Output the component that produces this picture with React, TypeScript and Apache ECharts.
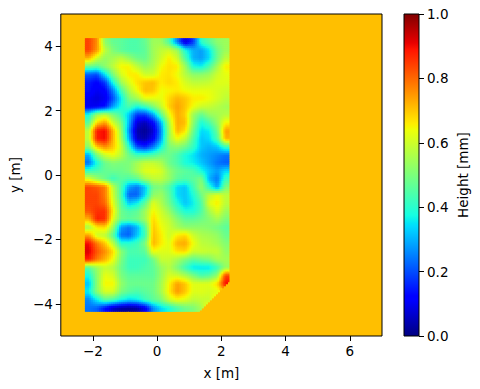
import React, { useEffect, useRef } from "react";
import * as echarts from "echarts";

// Axis ticks and labels
const xTicks = [-2, 0, 2, 4, 6];
const yTicks = [-4, -2, 0, 2, 4];
const barTicks = [0, 0.2, 0.4, 0.6, 0.8, 1];

// The measured patch: cell size and its upper left corner, in metres
const cellSize = 0.25;
const patchLeft = -2.25;
const patchTop = 4.25;
const backgroundHeight = 71;

const heightRows: (number | null)[][] = [
  [84, 76, 52, 47, 46, 44, 44, 47, 54, 54, 44, 25, 8, 18, 40, 46, 52, 54],
  [84, 75, 58, 50, 46, 44, 44, 46, 54, 58, 60, 54, 38, 30, 28, 35, 48, 54],
  [72, 60, 53, 55, 58, 53, 48, 47, 54, 60, 66, 60, 44, 30, 28, 34, 48, 58],
  [48, 46, 52, 58, 65, 65, 58, 53, 56, 64, 67, 66, 54, 38, 36, 44, 55, 66],
  [22, 20, 35, 50, 61, 66, 66, 60, 60, 66, 67, 64, 57, 52, 52, 54, 60, 63],
  [15, 12, 18, 38, 54, 62, 67, 70, 71, 66, 68, 66, 61, 58, 58, 59, 62, 62],
  [14, 10, 12, 25, 43, 56, 64, 71, 70, 64, 65, 66, 64, 63, 63, 63, 61, 60],
  [10, 8, 10, 20, 35, 50, 55, 63, 63, 63, 68, 72, 70, 66, 66, 64, 61, 58],
  [10, 10, 14, 28, 38, 44, 38, 42, 50, 59, 69, 74, 70, 64, 60, 59, 57, 55],
  [38, 54, 58, 50, 43, 32, 18, 18, 28, 46, 63, 73, 69, 54, 47, 53, 55, 57],
  [46, 68, 74, 60, 50, 30, 8, 5, 12, 30, 57, 73, 71, 52, 38, 44, 53, 65],
  [58, 88, 90, 72, 54, 26, 4, 2, 7, 26, 54, 72, 67, 48, 34, 36, 48, 74],
  [58, 88, 90, 72, 56, 30, 6, 4, 11, 28, 54, 64, 58, 44, 32, 34, 44, 72],
  [52, 70, 76, 70, 60, 40, 20, 16, 24, 37, 50, 52, 48, 41, 32, 30, 32, 42],
  [30, 50, 60, 64, 58, 48, 42, 42, 44, 48, 48, 44, 38, 35, 30, 28, 26, 24],
  [24, 38, 48, 51, 50, 50, 55, 59, 59, 56, 48, 44, 38, 36, 32, 28, 24, 22],
  [42, 44, 47, 48, 48, 50, 56, 62, 63, 61, 53, 48, 46, 44, 38, 32, 28, 34],
  [62, 54, 48, 42, 46, 44, 46, 54, 58, 58, 53, 46, 44, 46, 50, 30, 24, 42],
  [84, 82, 78, 58, 44, 28, 24, 32, 48, 50, 44, 34, 32, 42, 53, 40, 28, 50],
  [84, 84, 78, 60, 44, 22, 22, 34, 52, 54, 46, 34, 32, 38, 48, 58, 63, 58],
  [84, 84, 80, 62, 46, 32, 36, 46, 62, 56, 48, 38, 32, 36, 44, 62, 66, 58],
  [82, 86, 86, 66, 48, 44, 46, 54, 65, 60, 53, 44, 38, 38, 44, 55, 62, 54],
  [72, 88, 86, 62, 48, 46, 48, 54, 68, 62, 58, 51, 46, 46, 48, 51, 55, 50],
  [55, 66, 68, 54, 28, 24, 30, 44, 70, 64, 60, 55, 52, 52, 52, 51, 49, 46],
  [74, 60, 58, 46, 24, 22, 32, 42, 71, 66, 60, 66, 68, 60, 56, 55, 53, 48],
  [90, 78, 70, 58, 40, 40, 42, 50, 72, 66, 62, 72, 73, 64, 58, 57, 55, 51],
  [92, 82, 76, 68, 52, 44, 44, 46, 64, 62, 62, 67, 68, 60, 60, 59, 59, 53],
  [88, 78, 72, 64, 50, 42, 42, 42, 48, 59, 59, 55, 50, 46, 48, 50, 55, 55],
  [46, 54, 59, 57, 48, 42, 42, 44, 46, 53, 57, 50, 42, 35, 35, 35, 42, 53],
  [38, 52, 63, 61, 50, 46, 46, 46, 46, 53, 61, 60, 56, 50, 44, 46, 53, 84],
  [32, 52, 65, 65, 53, 48, 48, 48, 48, 55, 65, 74, 70, 62, 62, 62, 68, 90],
  [36, 52, 61, 61, 50, 46, 44, 46, 48, 55, 66, 75, 70, 62, 62, 61, 62, null],
  [26, 36, 46, 44, 38, 34, 36, 42, 46, 50, 60, 64, 62, 58, 59, 59, null, null],
  [24, 22, 14, 6, 3, 2, 3, 10, 26, 34, 38, 44, 48, 50, 55, null, null, null],
];

// Breakpoints of the jet colour map
const jetStops: [number, number, number, number][] = [
  [0, 0, 0, 128], [0.11, 0, 0, 255], [0.125, 0, 0, 255], [0.34, 0, 219, 255],
  [0.35, 0, 230, 247], [0.375, 21, 255, 226], [0.64, 238, 255, 8], [0.65, 247, 246, 0],
  [0.66, 255, 236, 0], [0.89, 255, 19, 0], [0.91, 232, 0, 0], [1, 128, 0, 0],
];

function jet(v: number): string {
  const t = Math.max(0, Math.min(1, v));
  for (let i = 1; i < jetStops.length; i++) {
    const a = jetStops[i - 1];
    const b = jetStops[i];
    if (t <= b[0]) {
      const f = (t - a[0]) / (b[0] - a[0] || 1);
      const c = (k: number) => Math.round(a[k] + (b[k] - a[k]) * f);
      return `rgb(${c(1)},${c(2)},${c(3)})`;
    }
  }
  return "rgb(128,0,0)";
}

const cells: [number, number, number][] = [];
heightRows.forEach((row, j) =>
  row.forEach((h, i) => {
    if (h !== null) cells.push([i, j, h]);
  }),
);

function readHeight(i: number, j: number): number {
  const r = Math.max(0, Math.min(heightRows.length - 1, j));
  const c = Math.max(0, Math.min(heightRows[0].length - 1, i));
  const h = heightRows[r][c];
  return h === null ? backgroundHeight : h;
}

function isMissing(i: number, j: number): boolean {
  return i >= heightRows[0].length || j >= heightRows.length || heightRows[j][i] === null;
}

// Display smoothing only, as an image shown with bilinear interpolation: each read cell
// is painted in small steps that blend towards its neighbours. The data stay as read.
const steps = 4;
function renderCell(_: any, api: any) {
  const i = api.value(0);
  const j = api.value(1);
  const cornerCut = isMissing(i + 1, j) && isMissing(i, j + 1);
  const children: any[] = [];
  for (let sx = 0; sx < steps; sx++) {
    for (let sy = 0; sy < steps; sy++) {
      const fx = (sx + 0.5) / steps;
      const fy = (sy + 0.5) / steps;
      if (cornerCut && fx + fy > 1) continue;
      const gx = i + fx - 0.5;
      const gy = j + fy - 0.5;
      const i0 = Math.floor(gx);
      const j0 = Math.floor(gy);
      const tx = gx - i0;
      const ty = gy - j0;
      const v =
        (readHeight(i0, j0) * (1 - tx) * (1 - ty) +
          readHeight(i0 + 1, j0) * tx * (1 - ty) +
          readHeight(i0, j0 + 1) * (1 - tx) * ty +
          readHeight(i0 + 1, j0 + 1) * tx * ty) /
        100;
      const p0 = api.coord([patchLeft + (i + sx / steps) * cellSize, patchTop - (j + sy / steps) * cellSize]);
      const p1 = api.coord([patchLeft + (i + (sx + 1) / steps) * cellSize, patchTop - (j + (sy + 1) / steps) * cellSize]);
      const overlapX = sx === steps - 1 && i === heightRows[0].length - 1 ? 0 : 0.6;
      const overlapY = sy === steps - 1 && j === heightRows.length - 1 ? 0 : 0.6;
      children.push({
        type: "rect",
        shape: { x: p0[0], y: p0[1], width: p1[0] - p0[0] + overlapX, height: p1[1] - p0[1] + overlapY },
        style: { fill: jet(v) },
      });
    }
  }
  return { type: "group", children };
}

function renderBar(_: any, api: any) {
  const p0 = api.coord([0, api.value(1)]);
  const p1 = api.coord([1, api.value(0)]);
  return {
    type: "rect",
    shape: { x: p0[0], y: p0[1], width: p1[0] - p0[0], height: p1[1] - p0[1] },
    style: {
      fill: new echarts.graphic.LinearGradient(
        0, 1, 0, 0,
        jetStops.map((s) => ({ offset: s[0], color: `rgb(${s[1]},${s[2]},${s[3]})` })),
      ),
    },
  };
}

const font = "DejaVu Sans";
const fmt = (v: number) => String(v).replace("-", "\u2212");

export default function App() {
  const ref = useRef<HTMLDivElement>(null);
  useEffect(() => {
    const chart = echarts.init(ref.current!, null, { renderer: "svg" });
    const label = { color: "#000", fontFamily: font, fontSize: 13.5 };
    const hiddenLine = { show: false, onZero: false };
    chart.setOption({
      animation: false,
      backgroundColor: "#fff",
      grid: [
        { left: 60, top: 14, width: 322, height: 322, show: true, backgroundColor: "#FFBF00", borderColor: "#000", borderWidth: 1 },
        { left: 404, top: 14, width: 15, height: 322, show: true, backgroundColor: "transparent", borderColor: "#000", borderWidth: 1 },
      ],
      xAxis: [
        {
          type: "value", gridIndex: 0, min: -3, max: 7, name: "x [m]", nameLocation: "middle", nameGap: 30,
          nameTextStyle: label, splitLine: { show: false }, axisLine: hiddenLine,
          axisTick: { show: true, length: 5, customValues: xTicks, lineStyle: { color: "#000" } },
          axisLabel: { ...label, margin: 8, customValues: xTicks, formatter: fmt },
        },
        { type: "value", gridIndex: 1, min: 0, max: 1, show: false },
      ],
      yAxis: [
        {
          type: "value", gridIndex: 0, min: -5, max: 5, name: "y [m]", nameLocation: "middle", nameGap: 37,
          nameTextStyle: label, splitLine: { show: false }, axisLine: hiddenLine,
          axisTick: { show: true, length: 5, customValues: yTicks, lineStyle: { color: "#000" } },
          axisLabel: { ...label, margin: 8, customValues: yTicks, formatter: fmt },
        },
        {
          type: "value", gridIndex: 1, min: 0, max: 1, position: "right", name: "Height [mm]", nameLocation: "middle",
          nameGap: 37, nameRotate: 90, nameTextStyle: label, splitLine: { show: false }, axisLine: hiddenLine,
          axisTick: { show: true, length: 5, customValues: barTicks, lineStyle: { color: "#000" } },
          axisLabel: { ...label, margin: 8, customValues: barTicks, formatter: (v: number) => v.toFixed(1) },
        },
      ],
      series: [
        {
          type: "custom", xAxisIndex: 0, yAxisIndex: 0, data: cells, renderItem: renderCell,
          dimensions: ["i", "j", "height"], encode: { x: 0, y: 1 }, clip: false, silent: true,
        },
        {
          type: "custom", xAxisIndex: 1, yAxisIndex: 1, data: [[barTicks[0], barTicks[barTicks.length - 1]]],
          renderItem: renderBar, encode: { y: [0, 1] }, clip: false, silent: true, z: -1,
        },
      ],
    });
    return () => chart.dispose();
  }, []);
  return <div ref={ref} style={{ position: "absolute", left: 0, top: 0, width: 480, height: 389 }} />;
}
